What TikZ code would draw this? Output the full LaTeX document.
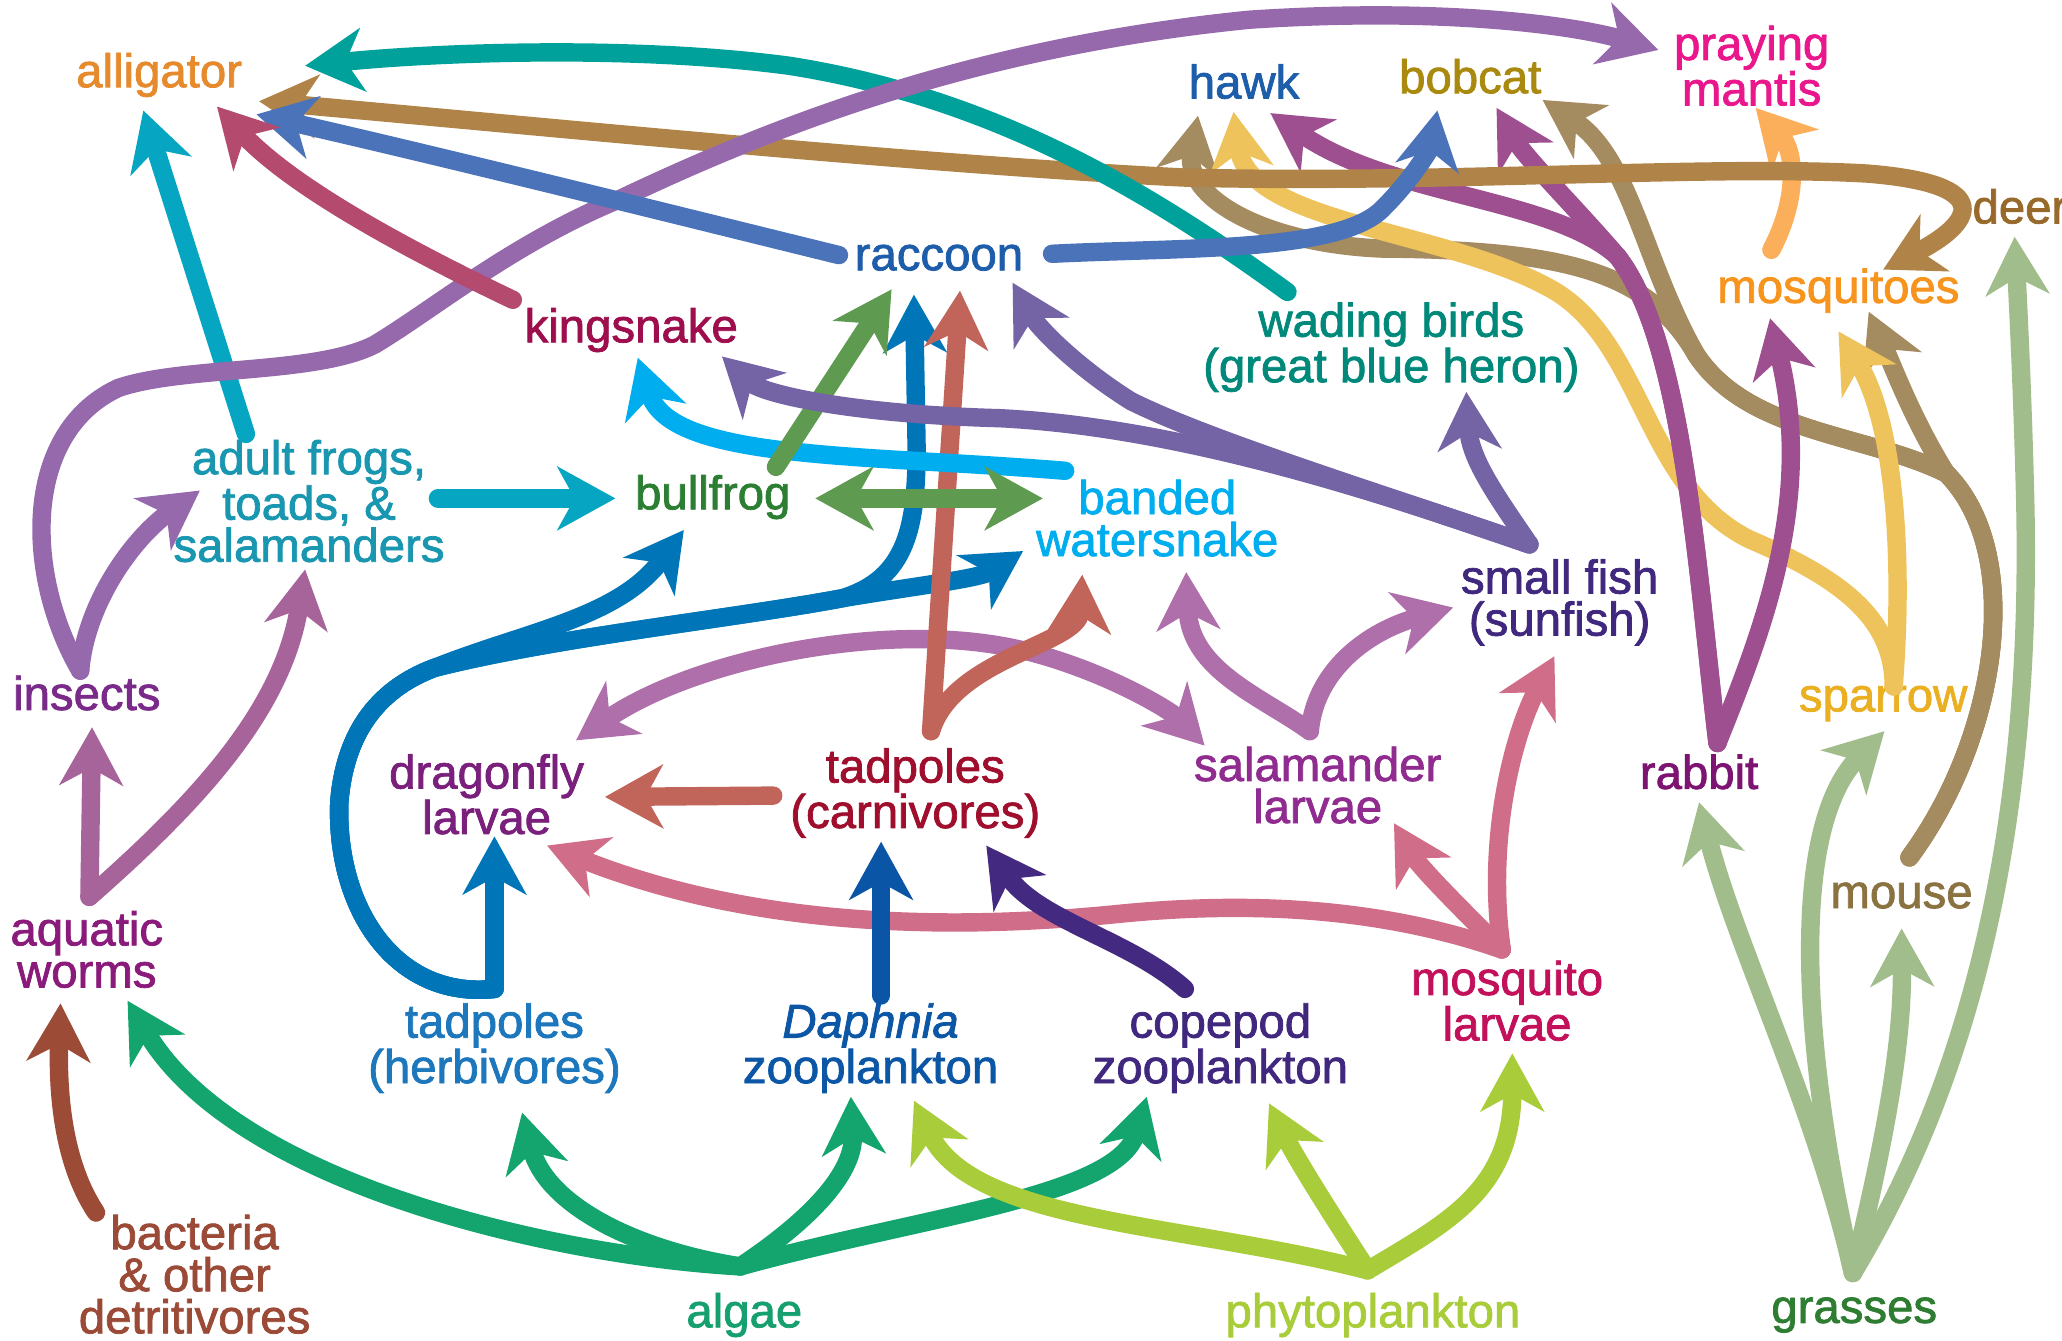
\documentclass[tikz,border=0pt]{standalone}
\usepackage{fontspec}
\setmainfont{Liberation Sans}[FakeBold=1.6]
\usetikzlibrary{arrows.meta}

% arrow colours
\definecolor{cWade}{HTML}{00A19A}
\definecolor{cDeer}{HTML}{B08448}
\definecolor{cRacc}{HTML}{4A73B9}
\definecolor{cKing}{HTML}{B44A6E}
\definecolor{cFrog}{HTML}{06A5C1}
\definecolor{cIns}{HTML}{9669AD}
\definecolor{cWorm}{HTML}{A7649B}
\definecolor{cBact}{HTML}{9B4B36}
\definecolor{cAlg}{HTML}{14A56F}
\definecolor{cPhy}{HTML}{A9CD3A}
\definecolor{cGrass}{HTML}{A1BD8B}
\definecolor{cTadh}{HTML}{0076B9}
\definecolor{cTadc}{HTML}{C1645A}
\definecolor{cBull}{HTML}{5F9A51}
\definecolor{cSnake}{HTML}{00AEEF}
\definecolor{cFish}{HTML}{7463A5}
\definecolor{cSal}{HTML}{AF6FAB}
\definecolor{cMlar}{HTML}{D06D89}
\definecolor{cCop}{HTML}{43297F}
\definecolor{cDaph}{HTML}{0B55A6}
\definecolor{cSpar}{HTML}{EEC35C}
\definecolor{cRab}{HTML}{9E4F8F}
\definecolor{cMouse}{HTML}{A48B60}
\definecolor{cMosq}{HTML}{FBAF5B}
% label colours
\definecolor{tAlligator}{HTML}{E68A2E}
\definecolor{tHawk}{HTML}{1D5DAA}
\definecolor{tBobcat}{HTML}{A98A0E}
\definecolor{tMantis}{HTML}{EA168C}
\definecolor{tDeer}{HTML}{97692A}
\definecolor{tKing}{HTML}{9E0D4C}
\definecolor{tWade}{HTML}{00897B}
\definecolor{tMosq}{HTML}{F7941E}
\definecolor{tFrog}{HTML}{1996B0}
\definecolor{tBull}{HTML}{2C7E33}
\definecolor{tSnake}{HTML}{00ADEE}
\definecolor{tFish}{HTML}{40287F}
\definecolor{tIns}{HTML}{7A2A88}
\definecolor{tDrag}{HTML}{7A1F7C}
\definecolor{tTadc}{HTML}{9F0F2D}
\definecolor{tSal}{HTML}{902C8F}
\definecolor{tRab}{HTML}{7D1471}
\definecolor{tSpar}{HTML}{EBB022}
\definecolor{tMouse}{HTML}{8B7241}
\definecolor{tWorm}{HTML}{8A1B7B}
\definecolor{tTadh}{HTML}{1C77BC}
\definecolor{tDaph}{HTML}{0C56A6}
\definecolor{tMlar}{HTML}{C2105B}
\definecolor{tBact}{HTML}{9A4A36}
\definecolor{tAlg}{HTML}{17A06F}
\definecolor{tPhy}{HTML}{A9CD3A}
\definecolor{tGrass}{HTML}{2E7D33}

\begin{document}
\begin{tikzpicture}[x=1pt, y=-1pt,
  >={Stealth[length=44pt,width=48pt,inset=13pt]},
  lbl/.style={text=#1, font=\fontsize{36}{32}\selectfont, align=center, inner sep=0pt},
  web/.style={draw=#1, line width=14pt, line cap=round, ->}]
\useasboundingbox (0,0) rectangle (1568,1019);

% animals and plants
\node[lbl=tAlligator] (alligator) at (121,57) {alligator};
\node[lbl=tHawk] (hawk) at (946,62) {hawk};
\node[lbl=tBobcat] (bobcat) at (1118,58) {bobcat};
\node[lbl=tMantis] (mantis) at (1332,50) {praying\\mantis};
\node[lbl=tDeer] (deer) at (1536,157) {deer};
\node[lbl=tHawk] (raccoon) at (714,196) {raccoon};
\node[lbl=tKing] (kingsnake) at (480,251) {kingsnake};
\node[lbl=tWade] (wading) at (1058,264) {wading birds\\(great blue heron)};
\node[lbl=tMosq] (mosquitoes) at (1398,221) {mosquitoes};
\node[lbl=tFrog] (frogs) at (235,381) {adult frogs,\\toads, \&\\salamanders};
\node[lbl=tBull] (bullfrog) at (542,378) {bullfrog};
\node[lbl=tSnake] (watersnake) at (880,394) {banded\\watersnake};
\node[lbl=tFish] (fish) at (1186,458) {small fish\\(sunfish)};
\node[lbl=tIns] (insects) at (66,527) {insects};
\node[lbl=tDrag] (dragonfly) at (370,604) {dragonfly\\larvae};
\node[lbl=tTadc] (tadcarn) at (696,603) {tadpoles\\(carnivores)};
\node[lbl=tSal] (sallarvae) at (1002,597) {salamander\\larvae};
\node[lbl=tRab] (rabbit) at (1292,587) {rabbit};
\node[lbl=tSpar] (sparrow) at (1432,535) {sparrow};
\node[lbl=tMouse] (mouse) at (1446,681) {mouse};
\node[lbl=tWorm] (worms) at (66,722) {aquatic\\worms};
\node[lbl=tTadh] (tadherb) at (376,797) {tadpoles\\(herbivores)};
\node[lbl=tDaph] (daphnia) at (662,797) {\itshape Daphnia\\zooplankton};
\node[lbl=tFish] (copepod) at (928,797) {copepod\\zooplankton};
\node[lbl=tMlar] (mosqlarvae) at (1146,761) {mosquito\\larvae};
\node[lbl=tBact] (bacteria) at (148,969) {bacteria\\\& other\\detritivores};
\node[lbl=tAlg] (algae) at (566,1000) {algae};
\node[lbl=tPhy] (phyto) at (1044,1000) {phytoplankton};
\node[lbl=tGrass] (grasses) at (1410,1000) {grasses};

% where the arrows start
\coordinate (wade-t) at (979,222);
\coordinate (racc-l) at (638,194);
\coordinate (racc-r) at (800,193);
\coordinate (king-t) at (390,228);
\coordinate (frog-t1) at (187,330);
\coordinate (frog-t2) at (333,379);
\coordinate (ins-t) at (61,510);
\coordinate (worm-t) at (68,682);
\coordinate (bact-t) at (73,922);
\coordinate (alg-t) at (563,963);
\coordinate (phy-t) at (1040,966);
\coordinate (grass-t) at (1409,968);
\coordinate (tadh-t) at (376,752);
\coordinate (tadc-t1) at (588,605);
\coordinate (tadc-t2) at (708,556);
\coordinate (bull-t) at (590,355);
\coordinate (snake-t) at (810,358);
\coordinate (fish-t) at (1163,414);
\coordinate (sal-t) at (996,556);
\coordinate (mlar-t) at (1142,722);
\coordinate (cop-t) at (901,752);
\coordinate (daph-t) at (670,757);
\coordinate (spar-t) at (1440,522);
\coordinate (rab-t) at (1306,565);
\coordinate (mouse-t) at (1452,652);
\coordinate (mosq-t) at (1347,190);

% where the arrows end
\coordinate (all-a) at (232,50);
\coordinate (all-b) at (197,77);
\coordinate (all-c) at (195,87);
\coordinate (all-d) at (165,81);
\coordinate (all-e) at (109,84);
\coordinate (hawk-a) at (911,88);
\coordinate (hawk-b) at (938,85);
\coordinate (hawk-c) at (966,86);
\coordinate (bob-a) at (1093,84);
\coordinate (bob-b) at (1138,82);
\coordinate (bob-c) at (1173,76);
\coordinate (mant-a) at (1261,38);
\coordinate (mant-b) at (1335,82);
\coordinate (mosq-a) at (1346,242);
\coordinate (mosq-b) at (1398,252);
\coordinate (mosq-c) at (1421,237);
\coordinate (mosq-d) at (1432,205);
\coordinate (deer-a) at (1532,180);
\coordinate (racc-a) at (678,220);
\coordinate (racc-b) at (695,224);
\coordinate (racc-c) at (730,221);
\coordinate (racc-d) at (770,215);
\coordinate (king-a) at (485,272);
\coordinate (king-b) at (549,271);
\coordinate (wade-a) at (1115,298);
\coordinate (frog-a) at (152,373);
\coordinate (frog-b) at (232,433);
\coordinate (bull-a) at (468,379);
\coordinate (bull-b) at (520,403);
\coordinate (bull-c) at (620,379);
\coordinate (snake-a) at (793,379);
\coordinate (snake-b) at (778,419);
\coordinate (snake-c) at (823,437);
\coordinate (snake-d) at (902,435);
\coordinate (fish-a) at (1105,462);
\coordinate (fish-b) at (1182,499);
\coordinate (ins-a) at (70,553);
\coordinate (drag-a) at (438,563);
\coordinate (drag-b) at (460,606);
\coordinate (drag-c) at (416,643);
\coordinate (drag-d) at (376,636);
\coordinate (tadc-a) at (670,640);
\coordinate (tadc-b) at (750,643);
\coordinate (sal-a) at (916,567);
\coordinate (sal-b) at (1060,626);
\coordinate (rab-a) at (1292,610);
\coordinate (spar-a) at (1433,556);
\coordinate (mouse-a) at (1446,706);
\coordinate (worm-a) at (46,763);
\coordinate (worm-b) at (97,761);
\coordinate (tadh-a) at (397,846);
\coordinate (daph-a) at (647,834);
\coordinate (daph-b) at (695,837);
\coordinate (cop-a) at (872,834);
\coordinate (cop-b) at (965,839);
\coordinate (mlar-a) at (1150,801);

% producers
\draw[web=cGrass] (grass-t) .. controls (1380,840) and (1320,720) .. (rab-a);
\draw[web=cGrass] (grass-t) .. controls (1370,800) and (1360,630) .. (spar-a);
\draw[web=cGrass] (grass-t) .. controls (1430,880) and (1447,800) .. (mouse-a);
\draw[web=cGrass] (grass-t) .. controls (1510,800) and (1545,600) .. (1540,380) .. controls (1538,300) and (1535,240) .. (deer-a);
\draw[web=cAlg] (alg-t) .. controls (420,955) and (180,900) .. (worm-b);
\draw[web=cAlg] (alg-t) .. controls (480,950) and (415,915) .. (tadh-a);
\draw[web=cAlg] (alg-t) .. controls (620,925) and (650,890) .. (daph-a);
\draw[web=cAlg] (alg-t) .. controls (700,925) and (850,910) .. (cop-a);
\draw[web=cPhy] (phy-t) .. controls (900,930) and (740,930) .. (daph-b);
\draw[web=cPhy] (phy-t) .. controls (1010,920) and (985,880) .. (cop-b);
\draw[web=cPhy] (phy-t) .. controls (1100,930) and (1150,905) .. (mlar-a);
\draw[web=cBact] (bact-t) .. controls (45,880) and (44,820) .. (worm-a);

% pond
\draw[web=cMlar] (mlar-t) .. controls (1050,690) and (950,685) .. (850,695) .. controls (700,710) and (560,700) .. (drag-c);
\draw[web=cMlar] (mlar-t) .. controls (1110,690) and (1080,660) .. (sal-b);
\draw[web=cMlar] (mlar-t) .. controls (1130,640) and (1150,560) .. (fish-b);
\draw[web=cDaph] (daph-t) -- (tadc-a);
\draw[web=cCop] (cop-t) .. controls (860,715) and (790,700) .. (tadc-b);
\draw[web=cSal, <->] (drag-a) .. controls (530,500) and (680,470) .. (780,495) .. controls (840,510) and (890,540) .. (sal-a);
\draw[web=cSal] (sal-t) .. controls (960,530) and (905,510) .. (snake-d);
\draw[web=cSal] (sal-t) .. controls (1000,510) and (1040,480) .. (fish-a);
\draw[web=cTadh] (tadh-t) -- (drag-d);
\draw[web=cTadh] (tadh-t) .. controls (300,760) and (255,690) .. (258,610) .. controls (262,560) and (285,525) .. (330,508) .. controls (400,480) and (470,470) .. (bull-b);
\draw[web=cTadh] (tadh-t) .. controls (300,760) and (255,690) .. (258,610) .. controls (262,560) and (285,525) .. (330,508) .. controls (420,485) and (560,470) .. (640,455) .. controls (700,445) and (745,440) .. (snake-b);
\draw[web=cTadh] (tadh-t) .. controls (300,760) and (255,690) .. (258,610) .. controls (262,560) and (285,525) .. (330,508) .. controls (420,485) and (560,470) .. (640,455) .. controls (690,440) and (697,400) .. (697,340) -- (racc-b);
\draw[web=cTadc] (tadc-t1) -- (drag-b);
\draw[web=cTadc] (tadc-t2) -- (racc-c);
\draw[web=cTadc] (tadc-t2) .. controls (725,500) and (820,490) .. (snake-c);
\draw[web=cWorm] (worm-t) -- (ins-a);
\draw[web=cWorm] (worm-t) .. controls (150,610) and (215,540) .. (frog-b);
\draw[web=cSnake] (snake-t) .. controls (650,345) and (510,350) .. (king-a);
\draw[web=cBull] (bull-t) -- (racc-a);
\draw[web=cBull, <->] (bull-c) -- (snake-a);
\draw[web=cFrog] (frog-t2) -- (bull-a);
\draw[web=cFrog] (frog-t1) -- (all-e);
\draw[web=cFish] (fish-t) .. controls (1050,375) and (900,325) .. (760,318) .. controls (650,315) and (580,300) .. (king-b);
\draw[web=cFish] (fish-t) .. controls (1050,375) and (920,335) .. (860,305) .. controls (820,280) and (790,250) .. (racc-d);
\draw[web=cFish] (fish-t) .. controls (1140,380) and (1118,350) .. (wade-a);

% land
\draw[web=cMouse] (mouse-t) .. controls (1520,560) and (1540,420) .. (1480,360) .. controls (1455,320) and (1440,280) .. (mosq-c);
\draw[web=cMouse] (mouse-t) .. controls (1520,560) and (1540,420) .. (1480,360) .. controls (1420,330) and (1330,330) .. (1290,270) .. controls (1255,210) and (1200,190) .. (1050,189) .. controls (960,185) and (900,150) .. (hawk-a);
\draw[web=cMouse] (mouse-t) .. controls (1520,560) and (1540,420) .. (1480,360) .. controls (1420,330) and (1330,330) .. (1290,270) .. controls (1250,200) and (1240,120) .. (bob-c);
\draw[web=cSpar] (spar-t) .. controls (1440,470) and (1400,440) .. (1330,410) .. controls (1250,370) and (1250,260) .. (1180,220) .. controls (1100,175) and (950,170) .. (hawk-b);
\draw[web=cSpar] (spar-t) .. controls (1448,420) and (1440,320) .. (mosq-b);
\draw[web=cRab] (rab-t) .. controls (1290,430) and (1280,260) .. (1230,195) .. controls (1180,150) and (1060,150) .. (hawk-c);
\draw[web=cRab] (rab-t) .. controls (1290,430) and (1280,260) .. (1230,195) .. controls (1200,160) and (1160,120) .. (bob-b);
\draw[web=cRab] (rab-t) .. controls (1340,480) and (1380,380) .. (mosq-a);
\draw[web=cMosq] (mosq-t) .. controls (1368,150) and (1365,115) .. (mant-b);

% top of the web
\draw[web=cDeer, <->] (all-b) .. controls (400,95) and (700,125) .. (900,135) .. controls (1100,140) and (1300,125) .. (1420,132) .. controls (1520,140) and (1500,170) .. (mosq-d);
\draw[web=cWade] (wade-t) .. controls (880,150) and (760,75) .. (600,50) .. controls (480,34) and (330,40) .. (all-a);
\draw[web=cIns] (ins-t) .. controls (20,440) and (15,330) .. (90,295) .. controls (140,278) and (240,285) .. (285,262) .. controls (330,235) and (390,185) .. (470,152) .. controls (600,90) and (750,35) .. (950,15) .. controls (1100,5) and (1200,20) .. (mant-a);
\draw[web=cIns] (ins-t) .. controls (65,460) and (100,410) .. (frog-a);
\draw[web=cRacc] (racc-l) .. controls (520,165) and (340,120) .. (all-c);
\draw[web=cRacc] (racc-r) .. controls (900,188) and (1020,192) .. (1052,158) .. controls (1075,135) and (1088,112) .. (bob-a);
\draw[web=cKing] (king-t) .. controls (300,185) and (220,140) .. (all-d);
\end{tikzpicture}
\end{document}
